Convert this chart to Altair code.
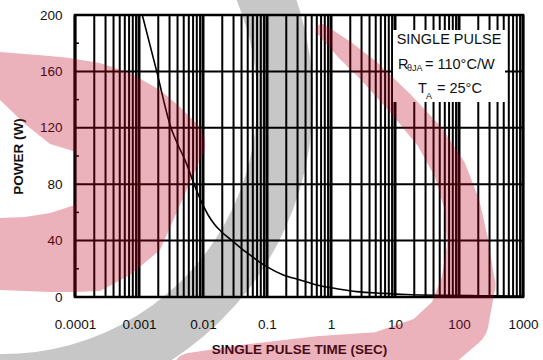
import altair as alt
import pandas as pd

# ---- data ----
pulse_time = [0.001126, 0.001891, 0.003129, 0.004068, 0.005233, 0.007054, 0.008752,
              0.01074, 0.01286, 0.0154, 0.0196, 0.02808, 0.04263, 0.05425, 0.07774,
              0.09892, 0.1798, 0.328, 0.5977, 1.382, 2.521, 6.565, 15, 50, 200, 1000]
power_w = [200, 160, 120.6, 107.8, 97.2, 81.6, 70.9, 62.4, 56.0, 51.1, 46.1, 40.1,
           33.3, 29.8, 24.5, 21.5, 15.6, 12.1, 8.5, 5.5, 3.8, 2.6, 1.8, 1.2, 0.9, 0.7]

decades = [0.0001, 0.001, 0.01, 0.1, 1, 10, 100]
multipliers = [2, 3, 4, 5, 6, 7, 8, 9]
x_ticks = [0.0001, 0.001, 0.01, 0.1, 1, 10, 100, 1000]
y_ticks = [0, 40, 80, 120, 160, 200]
y_minor = [20, 60, 100, 140, 180]

# ---- decorative watermark outline (page pixels) ----
wm_left_x = [0, 25, 50, 70, 74.9, 75, 100, 130, 160, 180, 200, 205]
wm_left_top = [52, 54, 56, 58, 59, 59, 63, 73, 90, 107, 127, 140]
wm_left_bot = [100, 124, 144, 150, 152, 292, 291, 275, 250, 205, 160, 150]
wm_low_x = [0, 25, 50, 75]
wm_low_top = [218, 217, 213, 205]
wm_low_bot = [290, 291, 292, 292]
wm_band_x = [322, 345, 370, 400, 430, 450, 462, 468, 468, 458, 430, 380, 320, 250, 190]
wm_band_y = [30, 50, 72, 103, 137, 170, 205, 245, 285, 320, 345, 358, 360, 364, 370]
wm_band_w = [12, 20, 24, 27, 30, 33, 36, 42, 55, 62, 60, 52, 48, 40, 34]

W, H = 448, 282
FONT = "Liberation Sans"

curve = pd.DataFrame({"t": pulse_time, "p": power_w})
minor_v = pd.DataFrame({"t": [d * m for d in decades for m in multipliers]})
major_v = pd.DataFrame({"t": x_ticks})
hgrid = pd.DataFrame({"p": y_ticks[1:-1]})
yminor = pd.DataFrame({"p": y_minor})

xs = alt.Scale(type="log", domain=[0.0001, 1000], nice=False)
ys = alt.Scale(domain=[0, 200], nice=False)

base_x = alt.X("t:Q", scale=xs,
               axis=alt.Axis(values=x_ticks, format="~g", grid=False, ticks=False,
                             domain=False, labelFont=FONT, labelFontSize=13.5,
                             labelColor="#111", labelPadding=20, labelFlush=False,
                             title="SINGLE PULSE TIME (SEC)", titleFont=FONT,
                             titleFontSize=13.5, titleFontWeight="bold",
                             titleColor="#111", titlePadding=12))
base_y = alt.Y("p:Q", scale=ys,
               axis=alt.Axis(values=y_ticks, grid=False, ticks=False, domain=False,
                             labelFont=FONT, labelFontSize=13.5, labelColor="#111",
                             labelPadding=13, title="POWER (W)", titleFont=FONT,
                             titleFontSize=13.5, titleFontWeight="bold",
                             titleColor="#111", titlePadding=14))

vminor = alt.Chart(minor_v).mark_rule(color="black", strokeWidth=2).encode(x=base_x)
vmajor = alt.Chart(major_v).mark_rule(color="black", strokeWidth=3).encode(x=base_x)
hlines = alt.Chart(hgrid).mark_rule(color="black", strokeWidth=2).encode(y=base_y)
yticks_in = alt.Chart(yminor).mark_rule(color="black", strokeWidth=1.5).encode(
    y=base_y, x=alt.value(0), x2=alt.value(4))

line = alt.Chart(curve).mark_line(color="black", strokeWidth=1.6, clip=True,
                                  interpolate="monotone").encode(x=base_x, y=base_y)

box = alt.Chart(pd.DataFrame({"a": [0]})).mark_rect(color="white").encode(
    x=alt.value(318), x2=alt.value(430), y=alt.value(15), y2=alt.value(87))


def txt(s, x, y, size=14.5, align="left"):
    return alt.Chart(pd.DataFrame({"s": [s]})).mark_text(
        font=FONT, fontSize=size, color="#111", align=align, baseline="middle").encode(
        text="s:N", x=alt.value(x), y=alt.value(y))


texts = (txt("SINGLE PULSE", 374, 25, align="center")
         + txt("R", 323, 50) + txt("θJA", 332, 53, size=9)
         + txt("= 110°C/W", 350, 50)
         + txt("T", 343, 74) + txt("A", 351, 81, size=9) + txt("= 25°C", 362, 74))

frame = alt.Chart(pd.DataFrame({"a": [0]})).mark_rect(
    fill=None, stroke="black", strokeWidth=2.5).encode(
    x=alt.value(0), x2=alt.value(W), y=alt.value(0), y2=alt.value(H))

main = alt.layer(vminor, vmajor, hlines, yticks_in, line, box, texts, frame)

# ---- watermark overlay in page-pixel coordinates ----
px = alt.Scale(domain=[75, 75 + W], nice=False, zero=False)
py = alt.Scale(domain=[15 + H, 15], nice=False, zero=False)
PINK = "#c00020"
PINK_OP = 0.3

left_df = pd.DataFrame({"x": wm_left_x, "y": wm_left_top, "y2": wm_left_bot})
low_df = pd.DataFrame({"x": wm_low_x, "y": wm_low_top, "y2": wm_low_bot})
band_df = pd.DataFrame({"x": wm_band_x, "y": wm_band_y, "w": wm_band_w,
                        "i": list(range(len(wm_band_x)))})


def area(df):
    return alt.Chart(df).mark_area(color=PINK, opacity=PINK_OP, clip=False,
                                   interpolate="linear").encode(
        x=alt.X("x:Q", scale=px, axis=None),
        y=alt.Y("y:Q", scale=py, axis=None),
        y2="y2:Q")


band = alt.Chart(band_df).mark_trail(color=PINK, opacity=PINK_OP, clip=False).encode(
    x=alt.X("x:Q", scale=px, axis=None),
    y=alt.Y("y:Q", scale=py, axis=None),
    size=alt.Size("w:Q", scale=None, legend=None),
    order="i:Q")

grey_arc = alt.Chart(pd.DataFrame({"a": [0]})).mark_arc(
    color="black", opacity=0.22, theta=1.0, theta2=3.3, radius=254, radius2=310).encode(
    x=alt.value(-72), y=alt.value(85))

wm = alt.layer(area(left_df), area(low_df), band)

chart = alt.layer(main, wm, grey_arc).resolve_scale(x="independent", y="independent").properties(
    width=W, height=H,
    autosize=alt.AutoSizeParams(type="none"),
    padding={"left": 75, "top": 15, "right": 20, "bottom": 63},
).configure_view(stroke=None)

chart.save("out.html", embed_options={"renderer": "svg", "actions": False})
